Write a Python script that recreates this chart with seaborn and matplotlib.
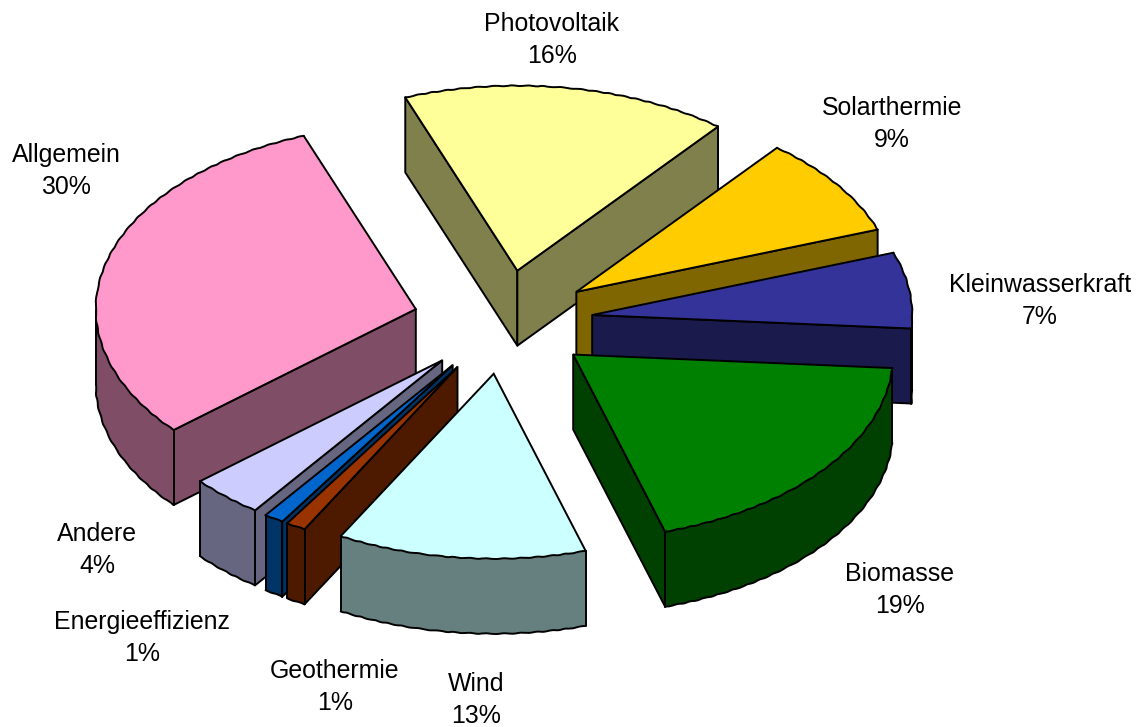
import numpy as np
import seaborn as sns
import matplotlib.pyplot as plt
from matplotlib.colors import to_rgb

# Anteile in Prozent, im Uhrzeigersinn ab Photovoltaik
labels = ['Photovoltaik', 'Solarthermie', 'Kleinwasserkraft', 'Biomasse', 'Wind',
          'Geothermie', 'Energieeffizienz', 'Andere', 'Allgemein']
values = [16.4, 8.7, 6.6, 19.1, 12.51, 1.0, 1.0, 3.7, 30.49]
colors = ['#FFFF99', '#FFCC00', '#333399', '#008000', '#CCFFFF',
          '#993300', '#0066CC', '#CCCCFF', '#FF99CC']

# Geometrie der 3D-Torte (Pixel)
cx, cy = 503, 322
radius = 320
squash = 0.578
depth = 75
explode = 90
start_angle = 110.5

# Reihenfolge hinten nach vorne
draw_order = ['Photovoltaik', 'Solarthermie', 'Kleinwasserkraft', 'Allgemein', 'Andere',
              'Energieeffizienz', 'Geothermie', 'Biomasse', 'Wind']
label_xy = {'Photovoltaik': (552, 40), 'Solarthermie': (892, 124),
            'Kleinwasserkraft': (1040, 301), 'Biomasse': (900, 590), 'Wind': (476, 700),
            'Geothermie': (335, 687), 'Energieeffizienz': (142, 638),
            'Andere': (97, 550), 'Allgemein': (66, 171)}

sns.set_theme(style='white')
plt.rcParams['font.family'] = ['Liberation Sans', 'DejaVu Sans']

fig = plt.figure(figsize=(11.38, 7.27), dpi=100)
ax = fig.add_axes([0, 0, 1, 1])
ax.set_xlim(0, 1138)
ax.set_ylim(727, 0)
ax.axis('off')

edges = np.cumsum([0] + values) / sum(values) * 360
lw = 1.4
wobble = (0.35, 16, 2)


def rim(ox, oy, a0, a1):
    n = max(int(abs(a0 - a1) / 1.5), 2)
    t = np.radians(np.linspace(a0, a1, n))
    return ox + radius * np.cos(t), oy - radius * squash * np.sin(t)


def wavy(x, y):
    # Bögen im Original sind leicht gezackt
    line, = ax.plot(x, y, color='black', lw=lw, solid_capstyle='round')
    line.set_sketch_params(*wobble)


for name in draw_order:
    i = labels.index(name)
    a0 = start_angle - edges[i]
    a1 = start_angle - edges[i + 1]
    mid = np.radians((a0 + a1) / 2)
    ox = cx + explode * np.cos(mid)
    oy = cy - explode * squash * np.sin(mid)
    top = np.array(to_rgb(colors[i]))
    side = top * 0.5

    # radiale Wände, nur wenn sie zum Betrachter zeigen
    for a, normal in [(a0, a0 + 90), (a1, a1 - 90)]:
        if np.sin(np.radians(normal)) < 0:
            ex = ox + radius * np.cos(np.radians(a))
            ey = oy - radius * squash * np.sin(np.radians(a))
            ax.fill([ox, ex, ex, ox], [oy, ey, ey + depth, oy + depth],
                    facecolor=side, edgecolor='black', lw=lw, joinstyle='round')

    # Außenwand: nur der vordere Teil des Bogens
    grid = np.linspace(a0, a1, 400)
    front = grid[np.sin(np.radians(grid)) < 0]
    if len(front) > 1:
        rx, ry = rim(ox, oy, front[0], front[-1])
        ax.fill(np.r_[rx, rx[::-1]], np.r_[ry, ry[::-1] + depth],
                facecolor=side, edgecolor='none')
        ax.plot([rx[0], rx[0]], [ry[0], ry[0] + depth], color='black', lw=lw)
        ax.plot([rx[-1], rx[-1]], [ry[-1], ry[-1] + depth], color='black', lw=lw)
        wavy(rx, ry + depth)

    # Deckfläche
    rx, ry = rim(ox, oy, a0, a1)
    ax.fill(np.r_[ox, rx], np.r_[oy, ry], facecolor=top, edgecolor='none')
    ax.plot([rx[-1], ox, rx[0]], [ry[-1], oy, ry[0]], color='black', lw=lw,
            solid_joinstyle='miter')
    wavy(rx, ry)

for name, v in zip(labels, values):
    x, y = label_xy[name]
    ax.text(x, y, f'{name}\n{round(v)}%', ha='center', va='center', fontsize=17.9,
            color='black', linespacing=1.42)

fig.savefig('out.png', dpi=100, facecolor='white')
